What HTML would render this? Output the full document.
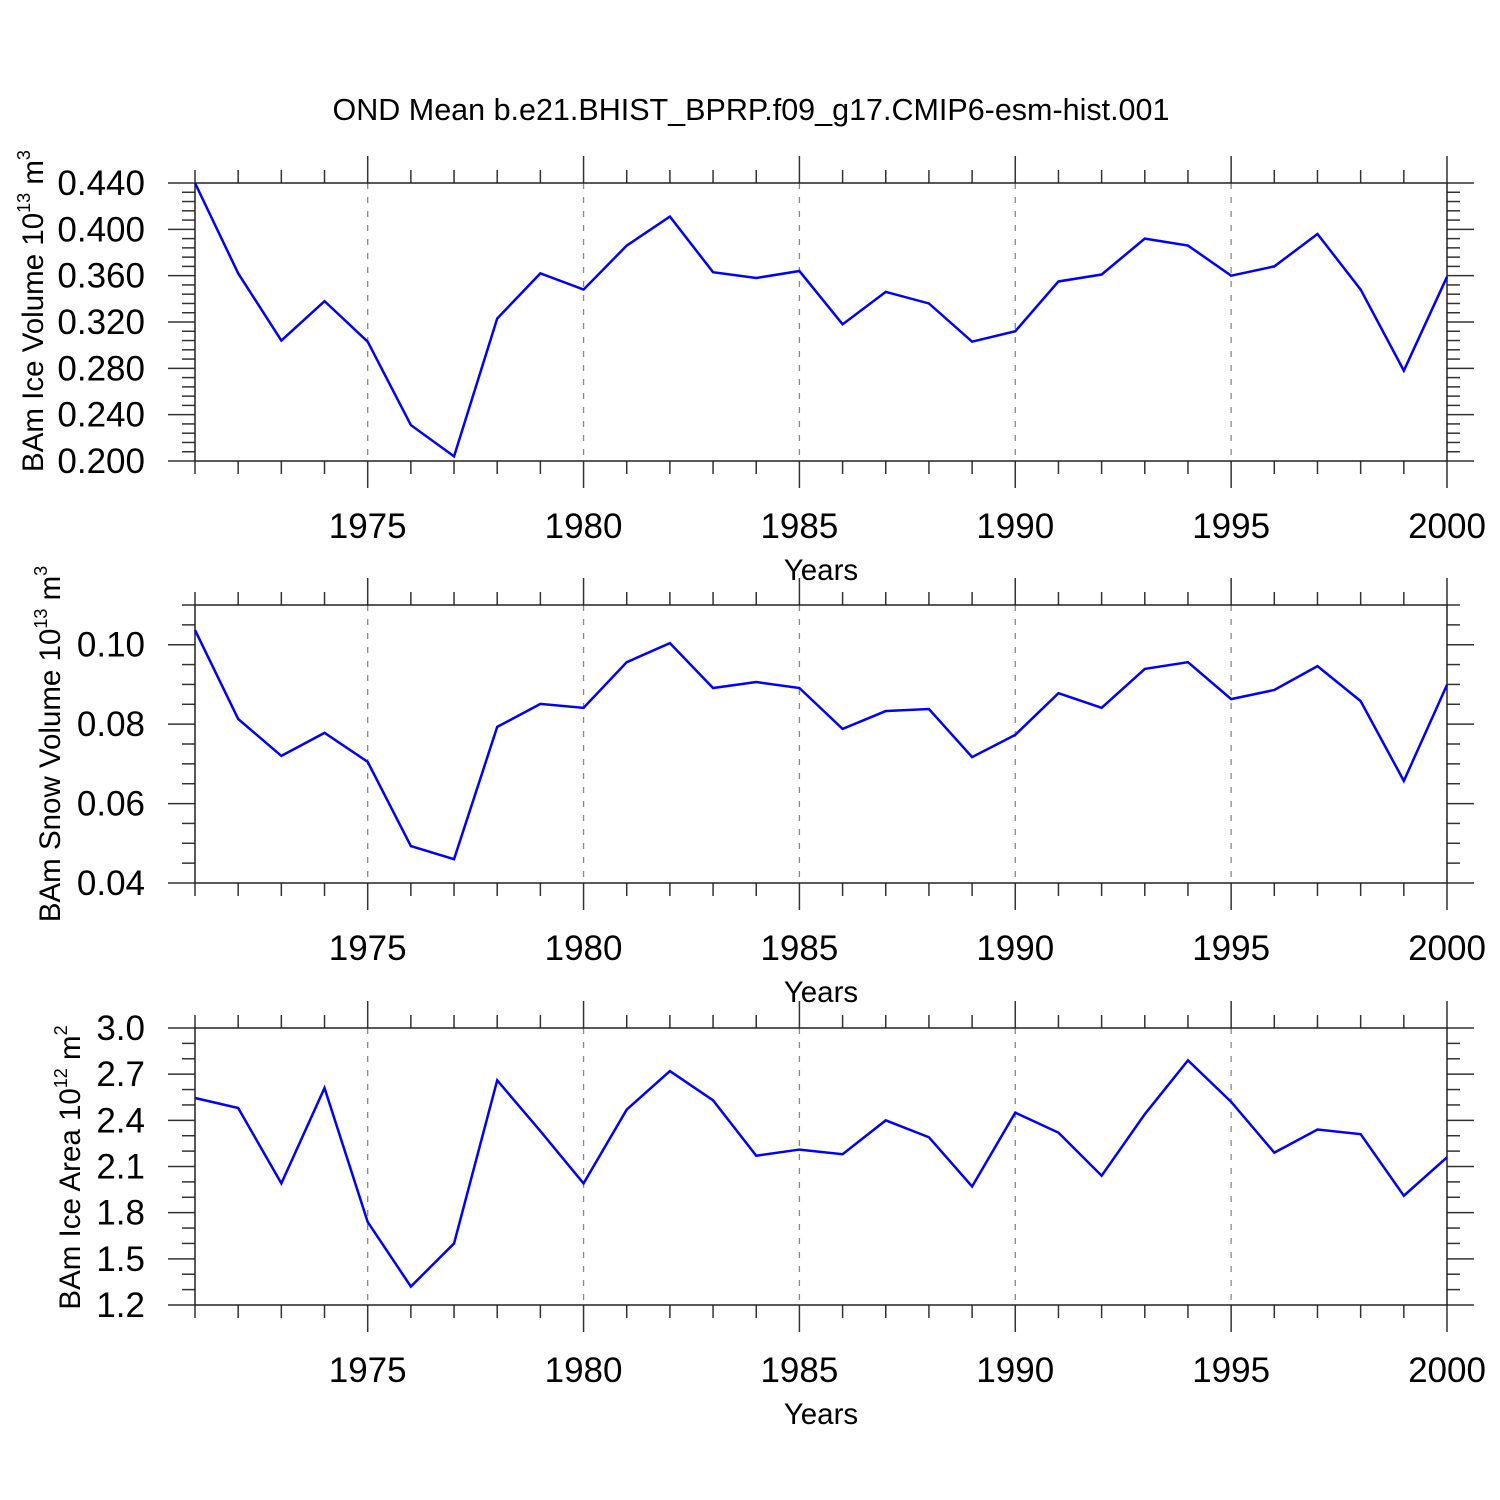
<!DOCTYPE html>
<html><head><meta charset="utf-8"><style>
html,body{margin:0;padding:0;background:#fff}
svg{display:block;font-family:"Liberation Sans",Arial,sans-serif}
</style></head><body>
<svg id="chart" width="1500" height="1500" viewBox="0 0 1500 1500" xmlns="http://www.w3.org/2000/svg">
<text x="751" y="120" font-size="30.5" text-anchor="middle">OND Mean b.e21.BHIST_BPRP.f09_g17.CMIP6-esm-hist.001</text>
</svg>
<script>
const years = [1971,1972,1973,1974,1975,1976,1977,1978,1979,1980,1981,1982,1983,1984,1985,1986,1987,1988,1989,1990,1991,1992,1993,1994,1995,1996,1997,1998,1999,2000];
const iceVolume = [0.440,0.362,0.304,0.338,0.303,0.231,0.204,0.323,0.362,0.348,0.386,0.411,0.363,0.358,0.364,0.318,0.346,0.336,0.303,0.312,0.355,0.361,0.392,0.386,0.360,0.368,0.396,0.348,0.278,0.359];
const snowVolume = [0.1037,0.0813,0.0720,0.0778,0.0705,0.0493,0.0460,0.0793,0.0851,0.0841,0.0956,0.1004,0.0891,0.0906,0.0891,0.0788,0.0833,0.0838,0.0717,0.0773,0.0878,0.0841,0.0939,0.0956,0.0863,0.0886,0.0946,0.0858,0.0657,0.0899];
const iceArea = [2.545,2.48,1.99,2.61,1.74,1.32,1.60,2.66,2.33,1.99,2.47,2.72,2.53,2.17,2.21,2.18,2.40,2.29,1.97,2.45,2.32,2.04,2.44,2.79,2.52,2.19,2.34,2.31,1.91,2.16];
const xTickLabels = ["1975","1980","1985","1990","1995","2000"];
const iceVolTicks = ["0.200","0.240","0.280","0.320","0.360","0.400","0.440"];
const snowVolTicks = ["0.04","0.06","0.08","0.10"];
const iceAreaTicks = ["1.2","1.5","1.8","2.1","2.4","2.7","3.0"];

const NS="http://www.w3.org/2000/svg";
const svg=document.getElementById('chart');
function mk(tag,attrs,parent){const e=document.createElementNS(NS,tag);for(const k in attrs)e.setAttribute(k,attrs[k]);(parent||svg).appendChild(e);return e;}

const X0=195,X1=1447;
function xs(yr){return X0+(yr-1971)*(X1-X0)/29;}

const panels=[
 {name:'ice-volume',top:183,bot:461,min:0.2,max:0.44,data:iceVolume,ticks:iceVolTicks,minorStep:0.008,title:'BAm Ice Volume 10',sup:'13',unit:' m',usup:'3',tx:43,off:-11},
 {name:'snow-volume',top:605,bot:883,min:0.04,max:0.11,data:snowVolume,ticks:snowVolTicks,minorStep:0.005,title:'BAm Snow Volume 10',sup:'13',unit:' m',usup:'3',tx:60,off:0},
 {name:'ice-area',top:1028,bot:1305,min:1.2,max:3.0,data:iceArea,ticks:iceAreaTicks,minorStep:0.1,title:'BAm Ice Area 10',sup:'12',unit:' m',usup:'2',tx:80,off:1}
];

panels.forEach(p=>{
 const g=mk('g',{});
 
 
 const ys=v=>p.bot-(v-p.min)/(p.max-p.min)*(p.bot-p.top);
 xTickLabels.forEach(t=>{const yr=+t;if(yr<2000){const l=mk('line',{x1:xs(yr),x2:xs(yr),y1:p.top,y2:p.bot,stroke:'#888','stroke-width':1.3,'stroke-dasharray':'6,8'},g);
 
 }});
 const n=Math.round((p.max-p.min)/p.minorStep);
 for(let i=0;i<=n;i++){const v=p.min+i*p.minorStep;const y=ys(v);
  const isMajor=p.ticks.some(t=>Math.abs(+t-v)<1e-6);
  const L=isMajor?27:13;
  mk('line',{x1:X0-L,x2:X0,y1:y,y2:y,stroke:'#333','stroke-width':1.5},g);
  mk('line',{x1:X1,x2:X1+L,y1:y,y2:y,stroke:'#333','stroke-width':1.5},g);
 }
 p.ticks.forEach(t=>{const tx=mk('text',{x:145,y:ys(+t)+12,'font-size':35,'text-anchor':'end'},g);tx.textContent=t;
  
  });
 years.forEach(yr=>{const major=yr%5===0;const L=major?27:13;const x=xs(yr);
  mk('line',{x1:x,x2:x,y1:p.top-L,y2:p.top,stroke:'#333','stroke-width':1.5},g);
  mk('line',{x1:x,x2:x,y1:p.bot,y2:p.bot+L,stroke:'#333','stroke-width':1.5},g);});
 xTickLabels.forEach(t=>{const tx=mk('text',{x:xs(+t),y:p.bot+77,'font-size':35,'text-anchor':'middle'},g);tx.textContent=t;
  
  });
 const fr=mk('rect',{x:X0,y:p.top,width:X1-X0,height:p.bot-p.top,fill:'none',stroke:'#222','stroke-width':1.5},g);
 
 
 const pts=years.map((yr,i)=>xs(yr)+','+ys(p.data[i])).join(' ');
 const pl=mk('polyline',{points:pts,fill:'none',stroke:'#0000ff','stroke-width':2.5,'stroke-linejoin':'miter'},g);
 
 
 const xt=mk('text',{x:821,y:p.bot+119,'font-size':29.5,'text-anchor':'middle'},g);xt.textContent='Years';
 
 
 const cy=(p.top+p.bot)/2+p.off;
 const yt=mk('text',{x:0,y:0,'font-size':29.5,'text-anchor':'middle',transform:`translate(${p.tx},${cy}) rotate(-90)`},g);
 
 
 yt.appendChild(document.createTextNode(p.title));
 const s1=mk('tspan',{'font-size':18,dy:-13},yt);s1.textContent=p.sup;
 const s2=mk('tspan',{dy:13},yt);s2.textContent=p.unit;
 const s3=mk('tspan',{'font-size':18,dy:-13},yt);s3.textContent=p.usup;
});
</script>
</body></html>
